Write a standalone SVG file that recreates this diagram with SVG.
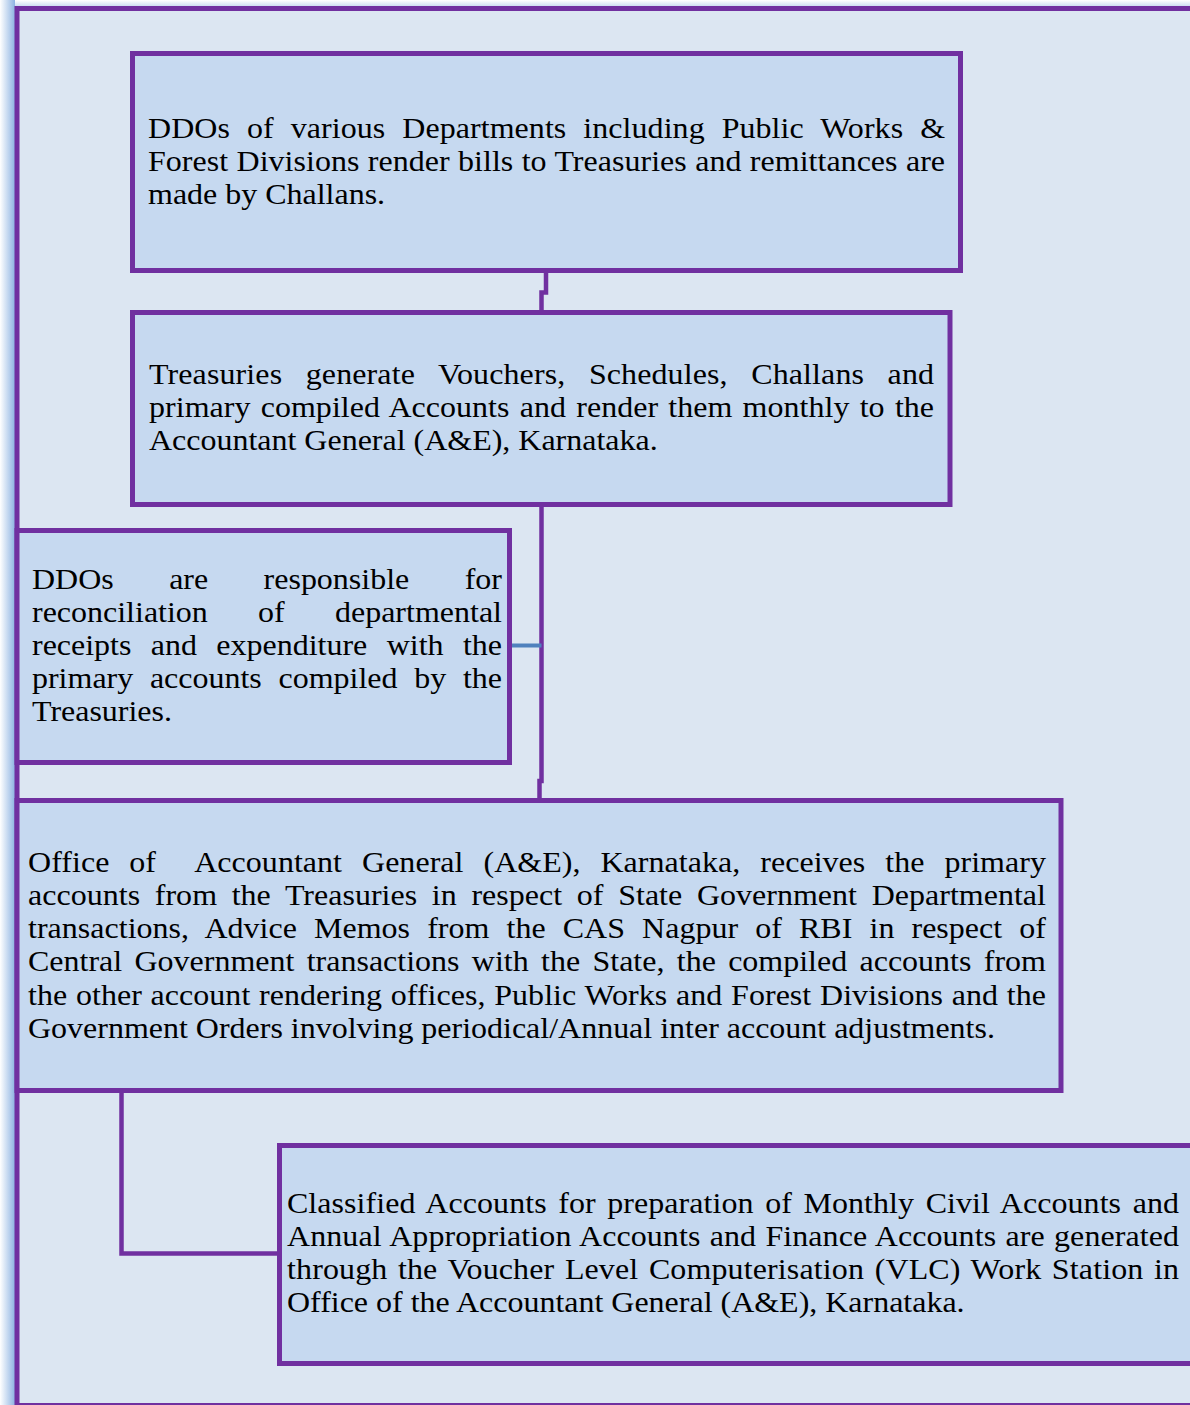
<svg xmlns="http://www.w3.org/2000/svg" width="1190" height="1405" viewBox="0 0 1190 1405">
<defs>
<linearGradient id="glowL" x1="0" y1="0" x2="1" y2="0">
<stop offset="0" stop-color="#ffffff"/>
<stop offset="1" stop-color="#8db3e2"/>
</linearGradient>
<linearGradient id="glowT" x1="0" y1="0" x2="0" y2="1">
<stop offset="0" stop-color="#ffffff"/>
<stop offset="1" stop-color="#c5d9ef"/>
</linearGradient>
<style>
.box{fill:#c6d9f0;stroke:#7030a0;stroke-width:5}
.con{fill:none;stroke:#7030a0;stroke-width:4.5}
.t{font-family:"Liberation Serif","Times New Roman",serif;font-size:29px;fill:#000}
</style>
</defs>
<rect x="0" y="0" width="1190" height="1405" fill="#ffffff"/>
<rect x="0" y="0" width="15" height="1405" fill="url(#glowL)"/>
<rect x="15" y="0" width="1175" height="7" fill="url(#glowT)"/>
<rect id="frame" x="17" y="8.5" width="1200" height="1397" fill="#dce6f2" stroke="#7030a0" stroke-width="5"/>

<g id="connectors">
<path class="con" d="M546 270.5 V292.5 H541.5 V312.5"/>
<path class="con" d="M541.5 504.5 V781 H539.5 V800.5"/>
<path d="M509.5 645.5 H541.5" fill="none" stroke="#4f81bd" stroke-width="4"/>
<path class="con" d="M121.5 1090.5 V1253.5 H279.5"/>
</g>

<g id="node1">
<rect class="box" x="132.5" y="53.5" width="828" height="217"/>
<g transform="scale(1.103 1)">
<text class="t" x="134.2" y="138" word-spacing="8.1" textLength="722.6" lengthAdjust="spacing">DDOs of various Departments including Public Works &amp;</text>
<text class="t" x="134.2" y="171" word-spacing="0.3" textLength="722.6" lengthAdjust="spacing">Forest Divisions render bills to Treasuries and remittances are</text>
<text class="t" x="134.2" y="204">made by Challans.</text>
</g>
</g>

<g id="node2">
<rect class="box" x="132.5" y="312.5" width="817.5" height="192"/>
<g transform="scale(1.103 1)">
<text class="t" x="135.1" y="384" word-spacing="14.0" textLength="711.7" lengthAdjust="spacing">Treasuries generate Vouchers, Schedules, Challans and</text>
<text class="t" x="135.1" y="417" word-spacing="2.0" textLength="711.7" lengthAdjust="spacing">primary compiled Accounts and render them monthly to the</text>
<text class="t" x="135.1" y="450">Accountant General (A&amp;E), Karnataka.</text>
</g>
</g>

<g id="node3">
<rect class="box" x="17" y="530.5" width="492.5" height="232"/>
<g transform="scale(1.103 1)">
<text class="t" x="29" y="589" word-spacing="43" textLength="426.1" lengthAdjust="spacing">DDOs are responsible for</text>
<text class="t" x="29" y="622" word-spacing="38.3" textLength="426.1" lengthAdjust="spacing">reconciliation of departmental</text>
<text class="t" x="29" y="655" word-spacing="10.3" textLength="426.1" lengthAdjust="spacing">receipts and expenditure with the</text>
<text class="t" x="29" y="688" word-spacing="7.9" textLength="426.1" lengthAdjust="spacing">primary accounts compiled by the</text>
<text class="t" x="29" y="721">Treasuries.</text>
</g>
</g>

<g id="node4">
<rect class="box" x="17" y="800.5" width="1044" height="290"/>
<g transform="scale(1.103 1)">
<text class="t" x="25.4" y="872" xml:space="preserve" word-spacing="10.8" textLength="922.9" lengthAdjust="spacing">Office of  Accountant General (A&amp;E), Karnataka, receives the primary</text>
<text class="t" x="25.4" y="905" word-spacing="6.0" textLength="922.9" lengthAdjust="spacing">accounts from the Treasuries in respect of State Government Departmental</text>
<text class="t" x="25.4" y="938" word-spacing="8.2" textLength="922.9" lengthAdjust="spacing">transactions, Advice Memos from the CAS Nagpur of RBI in respect of</text>
<text class="t" x="25.4" y="971" word-spacing="3.9" textLength="922.9" lengthAdjust="spacing">Central Government transactions with the State, the compiled accounts from</text>
<text class="t" x="25.4" y="1005" word-spacing="0.6" textLength="922.9" lengthAdjust="spacing">the other account rendering offices, Public Works and Forest Divisions and the</text>
<text class="t" x="25.4" y="1038">Government Orders involving periodical/Annual inter account adjustments.</text>
</g>
</g>

<g id="node5">
<rect class="box" x="279.5" y="1145.5" width="950" height="218"/>
<g transform="scale(1.103 1)">
<text class="t" x="260.2" y="1213" word-spacing="3.2" textLength="808.7" lengthAdjust="spacing">Classified Accounts for preparation of Monthly Civil Accounts and</text>
<text class="t" x="260.2" y="1246" word-spacing="1.06" textLength="808.7" lengthAdjust="spacing">Annual Appropriation Accounts and Finance Accounts are generated</text>
<text class="t" x="260.2" y="1279" word-spacing="2.2" textLength="808.7" lengthAdjust="spacing">through the Voucher Level Computerisation (VLC) Work Station in</text>
<text class="t" x="260.2" y="1312">Office of the Accountant General (A&amp;E), Karnataka.</text>
</g>
</g>
</svg>
